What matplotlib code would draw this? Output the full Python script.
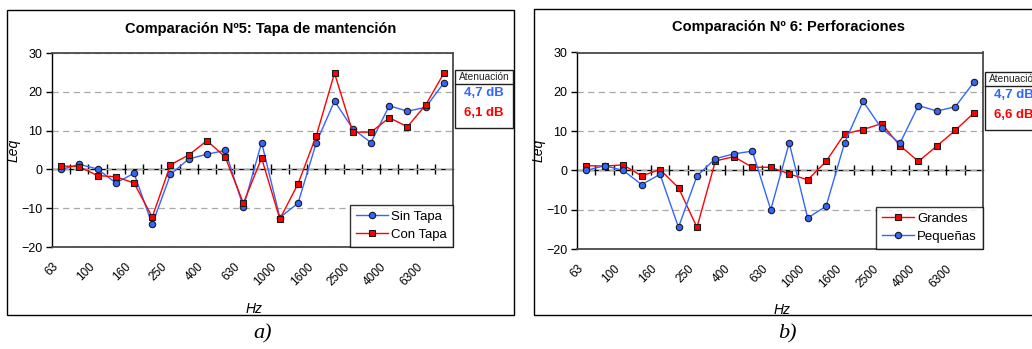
import numpy as np
import matplotlib
matplotlib.use("Agg")
import matplotlib.pyplot as plt
from matplotlib.patches import Rectangle
from matplotlib.lines import Line2D
from matplotlib.transforms import ScaledTranslation

plt.rcParams['font.family'] = ['Liberation Sans', 'DejaVu Sans']

# Third-octave band centre frequencies (Hz)
freqs = ['63', '80', '100', '125', '160', '200', '250', '315', '400', '500', '630',
         '800', '1000', '1250', '1600', '2000', '2500', '3150', '4000', '5000', '6300', '8000']

# Comparison 5: maintenance cover
sin_tapa = [0.0, 1.3, 0.1, -3.5, -1.0, -14.2, -1.3, 2.7, 3.9, 4.9, -9.7,
            6.9, -12.4, -8.7, 6.9, 17.6, 10.5, 6.9, 16.4, 15.0, 16.0, 22.3]
con_tapa = [0.9, 0.7, -1.6, -1.9, -3.5, -12.3, 1.2, 3.7, 7.4, 3.2, -8.7,
            2.9, -12.8, -3.7, 8.7, 24.8, 9.6, 9.6, 13.3, 11.0, 16.6, 24.8]

# Comparison 6: perforations
grandes = [1.2, 1.1, 1.4, -1.4, 0.2, -4.4, -14.5, 2.4, 3.5, 0.8, 0.8,
           -0.9, -2.4, 2.3, 9.3, 10.4, 11.9, 6.3, 2.3, 6.2, 10.2, 14.6]
pequenas = [0.0, 1.2, 0.0, -3.6, -1.0, -14.5, -1.4, 3.0, 4.2, 4.9, -10.0,
            7.0, -12.1, -9.1, 7.0, 17.6, 10.7, 6.9, 16.5, 15.1, 16.2, 22.4]

aten_a = ['4,7 dB', '6,1 dB']
aten_b = ['4,7 dB', '6,6 dB']

BLUE = '#3366FF'
RED = '#FF0000'
W, H = 1032, 349

fig = plt.figure(figsize=(W / 100, H / 100), dpi=100)


def fx(x):
    return x / W


def fy(y):
    return 1 - y / H


def make_axes(x0, y0, x1, y1):
    return fig.add_axes([fx(x0), fy(y1), fx(x1) - fx(x0), fy(y0) - fy(y1)])


def style_axes(ax, hz_y):
    ymin, ymax = -20, 30
    n = len(freqs)
    ax.set_xlim(-0.5, n - 0.5)
    ax.set_ylim(ymin, ymax)
    ax.set_yticks(np.arange(ymin, ymax + 1, 10))
    ax.tick_params(axis='y', direction='out', length=4, width=1, labelsize=9, pad=3)
    ax.yaxis.grid(True, color='#a8a8a8', linestyle=(0, (5, 3.5)), linewidth=0.9)
    ax.set_axisbelow(True)
    idx = np.arange(0, n, 2)
    ax.set_xticks(idx)
    ax.set_xticklabels([freqs[i] for i in idx], rotation=45, ha='right',
                       va='center', rotation_mode='anchor', fontsize=8.5)
    ax.tick_params(axis='x', length=0, pad=13)
    for lab in ax.get_xticklabels():
        lab.set_transform(lab.get_transform() +
                          ScaledTranslation(-0.05, 0, fig.dpi_scale_trans))
    for side in ('top', 'right', 'bottom'):
        ax.spines[side].set_color('#4a4a4a')
        ax.spines[side].set_linewidth(1.3)
    ax.spines['left'].set_color('black')
    ax.spines['left'].set_linewidth(1.0)
    # category axis crossing at zero, tick marks between categories
    sec = ax.secondary_xaxis((0 - ymin) / (ymax - ymin))
    sec.set_xticks(np.arange(0.5, n - 1, 1.0))
    sec.tick_params(direction='inout', length=7, width=1, labelbottom=False,
                    color='black')
    sec.spines['bottom'].set_color('black')
    sec.spines['bottom'].set_linewidth(1.0)
    ax.set_ylabel('Leq', fontsize=10, style='italic', labelpad=0)
    ax.set_xlabel('Hz', fontsize=10, style='italic')
    ax.xaxis.set_label_coords(0.505, hz_y)


def plot_series(ax, values, color, marker, label):
    x = np.arange(len(values))
    ax.plot(x, values, color=color, linewidth=1.0, marker=marker,
            markersize=4.6, markerfacecolor=color, markeredgecolor='#1a1a1a',
            markeredgewidth=0.8, label=label, zorder=3)


def legend(ax):
    lg = ax.legend(loc='lower right', borderaxespad=0, fontsize=9.5,
                   frameon=True, fancybox=False, handlelength=2.4,
                   handletextpad=0.25, borderpad=0.45, labelspacing=0.45)
    lg.get_frame().set_edgecolor('black')
    lg.get_frame().set_linewidth(1.0)


def panel_frame(x0, y0, x1, y1):
    fig.patches.append(Rectangle((fx(x0), fy(y1)), fx(x1) - fx(x0), fy(y0) - fy(y1),
                                 transform=fig.transFigure, fill=False,
                                 edgecolor='black', linewidth=1.0))


def aten_box(x0, y0, values):
    w, h, hh = 58, 58, 14
    fig.patches.append(Rectangle((fx(x0), fy(y0 + h)), w / W, h / H,
                                 transform=fig.transFigure, facecolor='white',
                                 edgecolor='#202020', linewidth=1.0, zorder=5))
    fig.lines.append(Line2D([fx(x0), fx(x0 + w)], [fy(y0 + hh)] * 2,
                            transform=fig.transFigure, color='#202020',
                            linewidth=1.0, zorder=6))
    cx = x0 + w / 2
    fig.text(fx(cx), fy(y0 + hh / 2), 'Atenuación', fontsize=7.3, color='#222222',
             ha='center', va='center', zorder=7)
    fig.text(fx(cx), fy(y0 + 23), values[0], fontsize=9.5, fontweight='bold',
             color=BLUE, ha='center', va='center', zorder=7)
    fig.text(fx(cx), fy(y0 + 43), values[1], fontsize=9.5, fontweight='bold',
             color=RED, ha='center', va='center', zorder=7)


# panel a)
panel_frame(7, 10, 514, 315)
ax1 = make_axes(52, 53, 453, 247)
style_axes(ax1, -0.285)
plot_series(ax1, sin_tapa, BLUE, 'o', 'Sin Tapa')
plot_series(ax1, con_tapa, RED, 's', 'Con Tapa')
legend(ax1)
fig.text(fx(261), fy(29), 'Comparación Nº5: Tapa de mantención', fontsize=10.5,
         fontweight='bold', ha='center', va='center')
aten_box(455, 70, aten_a)

# panel b)
panel_frame(534, 9, 1060, 315)
ax2 = make_axes(577, 52.5, 983, 249)
style_axes(ax2, -0.275)
plot_series(ax2, grandes, RED, 's', 'Grandes')
plot_series(ax2, pequenas, BLUE, 'o', 'Pequeñas')
legend(ax2)
fig.text(fx(789), fy(27), 'Comparación Nº 6: Perforaciones', fontsize=10.5,
         fontweight='bold', ha='center', va='center')
aten_box(985, 72, aten_b)

# captions
fig.text(fx(263), fy(334), 'a)', fontsize=16, style='italic',
         family=['Liberation Serif', 'DejaVu Serif'], ha='center', va='center')
fig.text(fx(787), fy(334), 'b)', fontsize=16, style='italic',
         family=['Liberation Serif', 'DejaVu Serif'], ha='center', va='center')

fig.savefig('out.png', dpi=100)
